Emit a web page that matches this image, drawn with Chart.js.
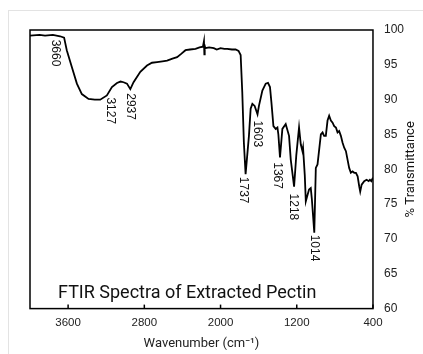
<!DOCTYPE html>
<html>
<head>
<meta charset="utf-8">
<script src="https://cdn.jsdelivr.net/npm/chart.js@4.4.1/dist/chart.umd.min.js"></script>
<style>
  body { margin: 0; background: #fff; }
  #frame { position: absolute; left: 8px; top: 10px; width: 500px; height: 400px; border-left: 1px solid #e3e3e3; border-top: 1px solid #e3e3e3; }
  #chart { position: absolute; left: 0; top: 0; }
</style>
</head>
<body>
<div id="frame"></div>
<canvas id="chart" width="423" height="354"></canvas>
<script>
// spectrum (cm-1, %T)
const wavenumber = [
  4000, 3900, 3842, 3760, 3684, 3642, 3614, 3561, 3508, 3456,
  3386, 3320, 3263, 3193, 3140, 3087, 3050, 3018, 2982, 2947,
  2913, 2842, 2772, 2720, 2666, 2610, 2561, 2505, 2456, 2410,
  2368, 2320, 2263, 2220, 2185, 2174, 2170, 2166, 2160, 2120,
  2071, 2040, 2000, 1960, 1930, 1880, 1842, 1811, 1789, 1772,
  1755, 1737, 1702, 1684, 1666, 1642, 1612, 1597, 1561, 1526,
  1502, 1481, 1466, 1445, 1421, 1403, 1393, 1376, 1351, 1316,
  1281, 1263, 1228, 1205, 1176, 1158, 1140, 1134, 1116, 1105,
  1087, 1071, 1053, 1042, 1016, 1000, 982, 947, 929, 913,
  895, 877, 860, 842, 824, 807, 789, 772, 755, 737,
  719, 702, 684, 667, 650, 632, 614, 597, 579, 561,
  544, 534, 519, 492, 467, 445, 432, 418, 400
]
const transmittance = [
  99.2, 99.3, 99.2, 99.3, 99.1, 98.9, 97.1, 94.7, 92.3, 90.8,
  90.1, 90.0, 90.0, 90.6, 91.8, 92.4, 92.6, 92.5, 92.3, 91.5,
  92.5, 94.0, 94.9, 95.3, 95.4, 95.5, 95.6, 95.9, 96.1, 96.6,
  97.1, 97.2, 97.3, 97.5, 97.6, 98.4, 96.5, 97.7, 97.4, 97.5,
  97.4, 97.2, 97.4, 97.3, 97.3, 97.2, 97.2, 97.0, 96.4, 91.1,
  83.8, 79.3, 84.8, 88.7, 89.4, 89.1, 87.9, 89.1, 91.3, 92.3,
  92.4, 91.8, 89.6, 86.2, 85.8, 86.0, 85.0, 81.7, 85.8, 86.5,
  84.8, 81.4, 77.5, 82.0, 86.0, 83.6, 82.6, 83.1, 79.2, 75.4,
  76.3, 77.1, 77.3, 75.8, 70.9, 80.2, 80.7, 85.0, 85.3, 84.8,
  84.8, 87.0, 87.7, 87.0, 86.7, 86.2, 86.0, 85.3, 85.5, 84.8,
  83.8, 83.1, 82.6, 81.4, 80.2, 79.5, 79.7, 79.5, 79.5, 79.0,
  77.5, 76.8, 77.8, 78.3, 78.5, 78.3, 78.5, 78.3, 78.8
]

const xTicks = [3600, 2800, 2000, 1200, 400]

// peak labels and where their centres sit (in axis units)
const peakLabels = ['3660', '3127', '2937', '1737', '1603', '1367', '1218', '1014']
const peakLabelX = [3737, 3158, 2947, 1758, 1611, 1400, 1232, 1011]
const peakLabelY = [96.7, 88.4, 89.0, 77.0, 85.1, 79.1, 74.6, 68.7]

const decorations = {
  id: 'decorations',
  afterDatasetsDraw(chart) {
    const { ctx, chartArea: a, scales: { x, y } } = chart
    ctx.save()
    ctx.strokeStyle = '#000'
    ctx.lineWidth = 1.5
    ctx.strokeRect(a.left, a.top, a.right - a.left, a.bottom - a.top)

    // small inner tick marks on the bottom axis
    xTicks.forEach(v => {
      const px = x.getPixelForValue(v)
      ctx.beginPath()
      ctx.moveTo(px, a.bottom)
      ctx.lineTo(px, a.bottom - 4)
      ctx.stroke()
    })

    ctx.fillStyle = '#111'
    ctx.font = '12px "Liberation Sans"'
    ctx.textAlign = 'center'
    ctx.textBaseline = 'middle'
    peakLabels.forEach((t, i) => {
      ctx.save()
      ctx.translate(x.getPixelForValue(peakLabelX[i]), y.getPixelForValue(peakLabelY[i]))
      ctx.rotate(Math.PI / 2)
      ctx.fillText(t, 0, 0)
      ctx.restore()
    })

    ctx.font = '18px Roboto'
    ctx.textAlign = 'left'
    ctx.textBaseline = 'alphabetic'
    ctx.fillText('FTIR Spectra of Extracted Pectin', a.left + 28, a.bottom - 11)

    ctx.font = '13px Roboto'
    ctx.textAlign = 'center'
    ctx.textBaseline = 'middle'
    ctx.translate(a.right + 38, (a.top + a.bottom) / 2)
    ctx.rotate(-Math.PI / 2)
    ctx.fillText('% Transmittance', 0, 0)
    ctx.restore()
  }
}

new Chart(document.getElementById('chart'), {
  type: 'line',
  data: {
    datasets: [{
      data: wavenumber.map((w, i) => ({ x: w, y: transmittance[i] })),
      borderColor: '#000',
      borderWidth: 1.8,
      pointRadius: 0,
      tension: 0
    }]
  },
  options: {
    responsive: false,
    animation: false,
    layout: { padding: { left: 30, top: 30, right: 8, bottom: 2 } },
    plugins: { legend: { display: false }, tooltip: { enabled: false } },
    scales: {
      x: {
        type: 'linear',
        reverse: true,
        min: 400,
        max: 4000,
        afterBuildTicks: s => { s.ticks = xTicks.map(v => ({ value: v })) },
        grid: { display: false, drawTicks: false },
        border: { display: false },
        ticks: { padding: 7, color: '#222', maxRotation: 0, font: { size: 11.5, family: 'Liberation Sans' }, callback: v => v },
        title: { display: true, text: 'Wavenumber (cm⁻¹)', color: '#222', font: { size: 13, family: 'Roboto' }, padding: { top: 0, bottom: 0 } }
      },
      y: {
        position: 'right',
        min: 60,
        max: 100,
        ticks: { stepSize: 5, padding: 11, color: '#222', font: { size: 12, family: 'Liberation Sans' } },
        grid: { display: false, drawTicks: false },
        border: { display: false }
      }
    }
  },
  plugins: [decorations]
})
</script>
</body>
</html>
